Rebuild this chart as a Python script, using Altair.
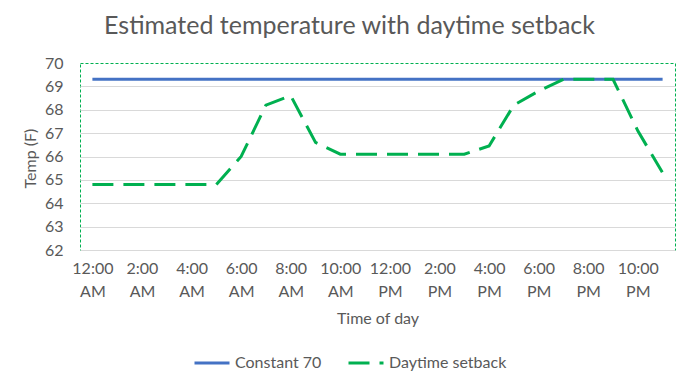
import altair as alt
import pandas as pd

hours = list(range(24))
constant_70 = [69.3] * 24
daytime_setback = [64.8, 64.8, 64.8, 64.8, 64.8, 64.8, 66.0, 68.2, 68.6, 66.6,
                   66.1, 66.1, 66.1, 66.1, 66.1, 66.1, 66.45, 68.2, 68.8, 69.3,
                   69.3, 69.3, 67.1, 65.3]
series_names = ["Constant 70", "Daytime setback"]
tick_labels = ["12:00 AM", "2:00 AM", "4:00 AM", "6:00 AM", "8:00 AM", "10:00 AM",
               "12:00 PM", "2:00 PM", "4:00 PM", "6:00 PM", "8:00 PM", "10:00 PM"]

rows = []
for h, v in zip(hours, constant_70):
    rows.append({"hour": h, "temp": v, "series": series_names[0]})
for h, v in zip(hours, daytime_setback):
    rows.append({"hour": h, "temp": v, "series": series_names[1]})
df = pd.DataFrame(rows)

label_array = "[" + ",".join("'" + t + "'" for t in tick_labels) + "]"
label_expr = "split(" + label_array + "[round(datum.value/2)], ' ')"

FONT = "Lato"
GREY = "#595959"

chart = alt.Chart(df).mark_line(strokeWidth=3, strokeCap="butt").encode(
    x=alt.X("hour:Q",
            scale=alt.Scale(domain=[-0.5, 23.5], nice=False, zero=False),
            axis=alt.Axis(values=list(range(0, 24, 2)), labelExpr=label_expr,
                          title="Time of day", grid=False, ticks=False, domain=False,
                          labelPadding=10, labelLineHeight=23, labelBaseline="top",
                          titleY=68, titleBaseline="middle")),
    y=alt.Y("temp:Q",
            scale=alt.Scale(domain=[62, 70], nice=False, zero=False),
            axis=alt.Axis(values=list(range(62, 71)), title="Temp (F)",
                          ticks=False, domain=False, labelPadding=17,
                          gridColor="#d9d9d9",
                          gridOpacity={"condition": {"test": "datum.value === 70", "value": 0}, "value": 1},
                          titleX=-50, titleY=95, titleBaseline="middle", titleAngle=-90)),
    color=alt.Color("series:N",
                    scale=alt.Scale(domain=series_names, range=["#4472c4", "#00b050"]),
                    legend=alt.Legend(title=None, orient="none", legendX=113, legendY=281,
                                      direction="horizontal", symbolType="stroke",
                                      symbolSize=1225, symbolStrokeWidth=3,
                                      labelFontSize=16, labelFont=FONT, labelColor=GREY,
                                      labelOffset=4, columnPadding=20)),
    strokeDash=alt.StrokeDash("series:N",
                              scale=alt.Scale(domain=series_names, range=[[1, 0], [21, 10]]),
                              legend=None),
).properties(
    width=595, height=187,
    padding={"left": 72, "top": 55, "right": 10, "bottom": 130},
    autosize=alt.AutoSizeParams(type="none"),
    background="white",
    title=alt.TitleParams("Estimated temperature with daytime setback", font=FONT,
                          fontSize=25, fontWeight="normal", color=GREY,
                          anchor="middle", dx=-28, offset=16),
).configure_view(
    stroke="#00b050", strokeDash=[3, 2], strokeWidth=1
).configure_axis(
    labelFont=FONT, labelFontSize=16, labelColor=GREY,
    titleFont=FONT, titleFontSize=16, titleColor=GREY, titleFontWeight="normal"
)

chart.save("out.html", embed_options={"renderer": "svg", "actions": False})
